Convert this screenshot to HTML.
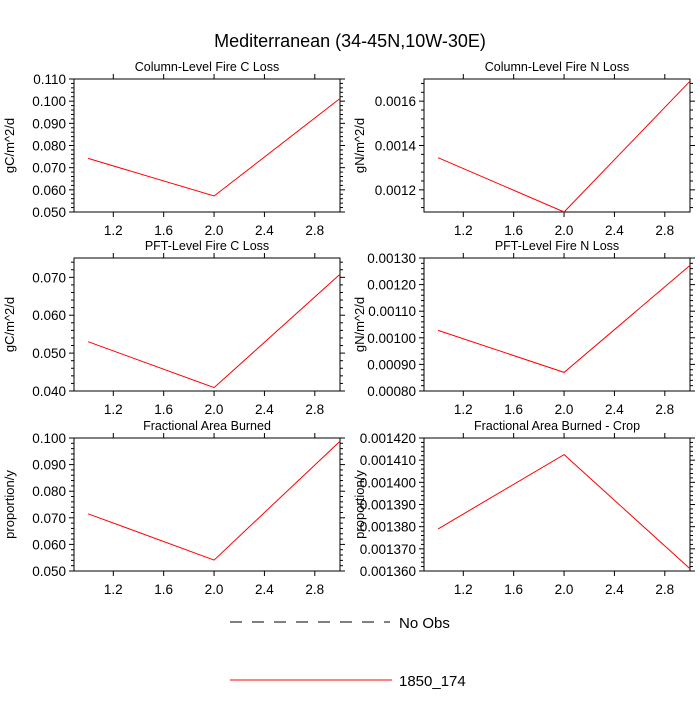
<!DOCTYPE html>
<html><head><meta charset="utf-8"><style>
body{margin:0;background:#fff;}
svg{font-family:"Liberation Sans",Arial,sans-serif;}
</style></head><body>
<svg id="chart" width="700" height="700" xmlns="http://www.w3.org/2000/svg">
<text x="350" y="47" text-anchor="middle" font-size="18">Mediterranean (34-45N,10W-30E)</text>
<g id="panels"></g>
<g>
<line x1="230" y1="622" x2="390" y2="622" stroke="#000" stroke-dasharray="12,10" stroke-width="1"/>
<text x="399" y="628" font-size="15">No Obs</text>
<line x1="230" y1="680" x2="392" y2="680" stroke="#f00" stroke-width="1"/>
<text x="399" y="686" font-size="15">1850_174</text>
</g>
</svg>
<script>
const xValues=[1,2,3];
const titles=["Column-Level Fire C Loss","Column-Level Fire N Loss","PFT-Level Fire C Loss","PFT-Level Fire N Loss","Fractional Area Burned","Fractional Area Burned - Crop"];
const yTitles=["gC/m^2/d","gN/m^2/d","gC/m^2/d","gN/m^2/d","proportion/y","proportion/y"];
const s0=[0.0742,0.0572,0.1012];
const s1=[0.001345,0.00110,0.00169];
const s2=[0.0530,0.0409,0.0708];
const s3=[0.001028,0.00087,0.001272];
const s4=[0.0715,0.0541,0.0988];
const s5=[0.001379,0.0014125,0.001361];
const series=[s0,s1,s2,s3,s4,s5];
const yMin=[0.05,0.0011,0.04,0.0008,0.05,0.00136];
const yMax=[0.11,0.0017,0.0751,0.0013,0.10,0.00142];
const yMajor=[0.01,0.0002,0.01,0.0001,0.01,0.00001];
const yDec=[3,4,3,5,3,6];
const xTicks=[1.2,1.6,2.0,2.4,2.8];
const NS="http://www.w3.org/2000/svg";
const root=document.getElementById('panels');
function mk(tag,attrs,parent){const e=document.createElementNS(NS,tag);for(const k in attrs)e.setAttribute(k,attrs[k]);parent.appendChild(e);return e;}
const lefts=[74,424],tops=[79,258,438],W=266,H=133;
for(let i=0;i<6;i++){
  const L=lefts[i%2],T=tops[Math.floor(i/2)];
  const g=mk('g',{},root);
  
  
  const xs=v=>L+(v-0.888)/(3-0.888)*W;
  const ys=v=>T+H-(v-yMin[i])/(yMax[i]-yMin[i])*H;
  const fr=mk('rect',{x:L,y:T,width:W,height:H,fill:'none',stroke:'#000','stroke-width':1},g);
  
  
  xTicks.forEach(t=>{
    const x=xs(t);
    mk('line',{x1:x,y1:T+H,x2:x,y2:T+H+5,stroke:'#000'},g);
    mk('line',{x1:x,y1:T,x2:x,y2:T-5,stroke:'#000'},g);
    const tx=mk('text',{x:x,y:T+H+23,'text-anchor':'middle','font-size':13.5},g);tx.textContent=t.toFixed(1);
    
    });
  const minor=yMajor[i]/5;
  const n0=Math.ceil(yMin[i]/minor-1e-6),n1=Math.floor(yMax[i]/minor+1e-6);
  for(let n=n0;n<=n1;n++){
    const v=n*minor;const y=ys(v);const maj=(n%5)==0;const len=maj?5:3;
    mk('line',{x1:L,y1:y,x2:L-len,y2:y,stroke:'#000'},g);
    mk('line',{x1:L+W,y1:y,x2:L+W+len,y2:y,stroke:'#000'},g);
    if(maj){const tx=mk('text',{x:L-8,y:y+5,'text-anchor':'end','font-size':13.5},g);tx.textContent=v.toFixed(yDec[i]);
      
      }
  }
  const pt=mk('text',{x:L+W/2,y:T-8,'text-anchor':'middle','font-size':12.5},g);pt.textContent=titles[i];
  
  
  const ax=L-60,ay=T+H/2;
  const yt=mk('text',{x:ax,y:ay,'text-anchor':'middle','font-size':13,transform:`rotate(-90 ${ax} ${ay})`},g);yt.textContent=yTitles[i];
  
  
  const d=series[i].map((v,k)=>(k?'L':'M')+xs(xValues[k]).toFixed(1)+','+ys(v).toFixed(1)).join(' ');
  const p=mk('path',{d:d,fill:'none',stroke:'#f00','stroke-width':1},g);
  
  
}
</script>
</body></html>
